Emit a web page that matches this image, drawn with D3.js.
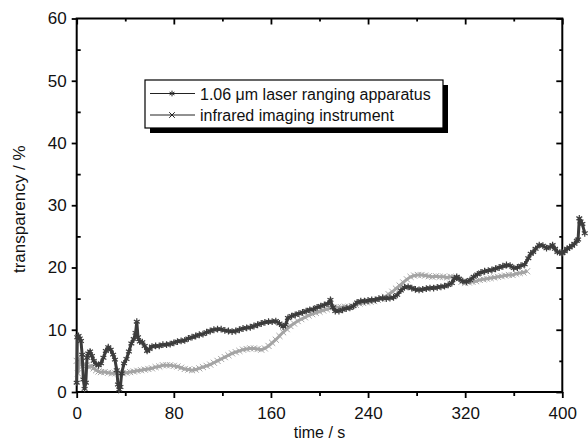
<!DOCTYPE html>
<html>
    <head>
        <meta charset="utf-8">
        <script src="https://d3js.org/d3.v7.min.js"></script>
        <style>
            body { margin: 0; background: #fff; }
            text { font-family: "Liberation Sans", Arial, sans-serif; }
        </style>
    </head>
    <body>
        <script>
            // DATA ///////////////////////////////////////////////////////////////////////////

            const seriesNames = ["1.06 \u03bcm laser ranging apparatus", "infrared imaging instrument"];

            const xMajorTicks = [0, 80, 160, 240, 320, 400];
            const yMajorTicks = [0, 10, 20, 30, 40, 50, 60];

            // laser ranging: [time s, transparency %]
            const laser = [
                [0,1.5],[0.5,8.8],[1.5,9],[2.5,8.6],[3.5,8.2],[4.5,6],[5.5,2],[6.5,0.5],[7.5,1.5],[8.5,5.5],
                [9.5,6.2],[11,6.5],[12.5,5.8],[14,5],[16,4.5],[18,4.3],[20,4.6],[22,5.5],[24,6.6],[26,7.2],
                [28,6.8],[30,6],[31.5,5.2],[33,3.5],[34,1.2],[35,0.4],[36,0.8],[37,3],[39,4.6],[41,5.3],
                [43,6.5],[45,7.8],[47,8.5],[48.5,9.5],[49.5,11.3],[50.5,8.8],[52,8.1],[54,8],[56,7.4],[58,6.6],
                [60,6.9],[62,7.3],[65,7.4],[68,7.4],[71,7.6],[74,7.6],[77,7.7],[80,7.9],[83,8.1],[86,8.2],
                [89,8.3],[92,8.6],[95,8.8],[98,9],[101,9.2],[104,9.3],[107,9.6],[110,9.8],[113,10],[116,10.1],
                [119,10.1],[122,9.9],[125,9.8],[128,9.7],[131,9.8],[134,10],[137,10.2],[140,10.3],[143,10.4],[146,10.6],
                [149,10.8],[152,11],[155,11.2],[158,11.3],[161,11.3],[164,11.4],[167,11],[170,10.5],[172,10.8],[174,11.9],
                [177,12.2],[180,12.4],[183,12.6],[186,12.8],[189,13],[192,13.2],[195,13.3],[198,13.6],[201,13.8],[204,14],
                [207,14.2],[209,14.8],[211,13.6],[213,13],[216,13],[219,13.2],[222,13.4],[225,13.5],[228,13.8],[231,14.4],
                [234,14.6],[237,14.6],[240,14.7],[243,14.8],[246,14.8],[249,15],[252,15.1],[255,15],[258,15.1],[261,15.2],
                [264,15.6],[267,16.3],[270,16.8],[273,16.9],[276,16.7],[279,16.5],[282,16.4],[285,16.5],[288,16.6],[291,16.7],
                [294,16.7],[297,16.8],[300,16.9],[303,17],[306,17.2],[309,17.5],[311,18.2],[313,18.5],[315,18.2],[318,17.8],
                [321,17.7],[324,18],[327,18.5],[330,18.9],[333,19.2],[336,19.4],[339,19.5],[342,19.6],[345,19.8],[348,20],
                [351,20.2],[354,20.4],[357,20.3],[360,19.9],[363,20],[366,20.3],[369,20.5],[372,21.5],[374,22.2],[376,22.5],
                [378,23],[381,23.6],[384,23.5],[387,23.1],[390,23.3],[392,23.6],[394,23],[396,22.5],[398,22.4],[400,22.3],
                [402,22.6],[404,23],[406,23.2],[408,23.5],[410,23.8],[412,24.3],[413,24.5],[414,27.9],[415,27.4],[416.5,27],
                [418.5,25.5]
            ];

            // infrared imaging: [time s, transparency %]
            const infrared = [
                [0,5],[1,3],[2,4.5],[3,5.2],[4,4.8],[5,4.2],[6,4.5],[8,4.3],[10,4],[12,4.2],
                [14,3.8],[16,3.5],[18,3.3],[20,3.2],[23,3.2],[26,3.1],[29,3],[32,3],[35,2.9],[38,3],
                [41,3.1],[44,3.2],[47,3.3],[50,3.4],[53,3.5],[56,3.6],[59,3.7],[62,3.8],[65,4],[68,4.1],
                [71,4.3],[74,4.3],[77,4.3],[80,4.2],[83,4.1],[86,3.9],[89,3.7],[92,3.6],[95,3.5],[98,3.6],
                [101,3.8],[104,4],[107,4.2],[110,4.4],[113,4.7],[116,5],[119,5.3],[122,5.6],[125,5.9],[128,6.2],
                [131,6.4],[134,6.6],[137,6.8],[140,6.9],[143,7],[146,7],[149,6.9],[152,6.8],[155,7],[158,7.4],
                [161,7.9],[164,8.4],[167,9],[170,9.6],[173,10.1],[176,10.6],[179,11],[182,11.4],[185,11.7],[188,12],
                [191,12.3],[194,12.5],[197,12.7],[200,12.9],[203,13.1],[206,13.3],[209,13.5],[212,13.6],[215,13.6],[218,13.6],
                [221,13.7],[224,13.7],[227,13.8],[230,14],[233,14.2],[236,14.3],[239,14.4],[242,14.5],[245,14.6],[248,14.8],
                [251,15],[254,15.3],[257,15.7],[260,16.1],[263,16.6],[266,17.1],[269,17.6],[272,18.1],[275,18.5],[278,18.7],
                [281,18.8],[284,18.8],[287,18.7],[290,18.6],[293,18.5],[296,18.6],[299,18.5],[302,18.5],[305,18.4],[308,18.5],
                [311,18.4],[314,18.1],[317,17.7],[320,17.5],[323,17.6],[326,17.7],[329,17.8],[332,18],[335,18.1],[338,18.2],
                [341,18.3],[344,18.4],[347,18.5],[350,18.6],[353,18.7],[356,18.8],[359,18.8],[362,19],[365,19.1],[368,19.2],
                [371,19.4]
            ];

            // CHART //////////////////////////////////////////////////////////////////////////

            const width = 588;
            const height = 443;
            const margin = { left: 76.7, top: 18.5, right: 25.7, bottom: 51 };

            const svg = d3.select("body").append("svg")
                .attr("width", width)
                .attr("height", height);

            const xSc = d3.scaleLinear().domain([0, 400]).range([margin.left, width - margin.right]);
            const ySc = d3.scaleLinear().domain([0, 60]).range([height - margin.bottom, margin.top]);

            const xMinor = d3.range(40, 400, 80);
            const yMinor = d3.range(5, 60, 10);

            function styleAxis(g) {
                g.select(".domain").remove();
                g.selectAll("line").attr("stroke", "#000").attr("stroke-width", 1.8);
                g.selectAll("text").attr("font-size", 17).attr("fill", "#111");
            }

            // bottom axis
            svg.append("g").attr("transform", `translate(0,${ySc(0)})`)
               .call(d3.axisBottom(xSc).tickValues(xMajorTicks).tickSize(6).tickPadding(9))
               .call(styleAxis);
            svg.append("g").attr("transform", `translate(0,${ySc(0)})`)
               .call(d3.axisBottom(xSc).tickValues(xMinor).tickSize(4).tickFormat(""))
               .call(styleAxis);

            // left axis
            svg.append("g").attr("transform", `translate(${xSc(0)},0)`)
               .call(d3.axisLeft(ySc).tickValues(yMajorTicks).tickSize(5).tickPadding(5))
               .call(styleAxis);
            svg.append("g").attr("transform", `translate(${xSc(0)},0)`)
               .call(d3.axisLeft(ySc).tickValues(yMinor).tickSize(-4).tickFormat(""))
               .call(styleAxis);

            // top axis (inward)
            svg.append("g").attr("transform", `translate(0,${ySc(60)})`)
               .call(d3.axisTop(xSc).tickValues(xMajorTicks).tickSize(-6).tickFormat(""))
               .call(styleAxis);
            svg.append("g").attr("transform", `translate(0,${ySc(60)})`)
               .call(d3.axisTop(xSc).tickValues(xMinor).tickSize(-3).tickFormat(""))
               .call(styleAxis);

            // right axis (inward)
            svg.append("g").attr("transform", `translate(${xSc(400)},0)`)
               .call(d3.axisRight(ySc).tickValues(yMajorTicks).tickSize(-6).tickFormat(""))
               .call(styleAxis);
            svg.append("g").attr("transform", `translate(${xSc(400)},0)`)
               .call(d3.axisRight(ySc).tickValues(yMinor).tickSize(-3).tickFormat(""))
               .call(styleAxis);

            // frame
            svg.append("rect")
               .attr("x", xSc(0)).attr("y", ySc(60))
               .attr("width", xSc(400) - xSc(0)).attr("height", ySc(0) - ySc(60))
               .attr("fill", "none").attr("stroke", "#000").attr("stroke-width", 2);

            // axis titles
            svg.append("text")
               .attr("x", (xSc(0) + xSc(400)) / 2).attr("y", 438)
               .attr("text-anchor", "middle").attr("font-size", 16).attr("fill", "#111")
               .text("time / s");

            svg.append("text")
               .attr("transform", `translate(25,${(ySc(0) + ySc(60)) / 2 + 4}) rotate(-90)`)
               .attr("text-anchor", "middle").attr("font-size", 17).attr("fill", "#111")
               .text("transparency / %");

            // SERIES /////////////////////////////////////////////////////////////////////////

            const lnMkr = d3.line().x(d => xSc(d[0])).y(d => ySc(d[1]));

            const series = [
                { data: infrared, color: "#a4a4a4", symbol: d3.symbolTimes, size: 26, width: 1 },
                { data: laser, color: "#3c3c3c", symbol: d3.symbolAsterisk, size: 32, width: 1.2 }
            ];

            series.forEach(s => {
                svg.append("path")
                   .attr("d", lnMkr(s.data))
                   .attr("fill", "none")
                   .attr("stroke", s.color)
                   .attr("stroke-width", 3);

                svg.append("g").selectAll("path")
                   .data(s.data)
                   .join("path")
                   .attr("transform", d => `translate(${xSc(d[0])},${ySc(d[1])})`)
                   .attr("d", d3.symbol(s.symbol, s.size))
                   .attr("fill", "none")
                   .attr("stroke", s.color)
                   .attr("stroke-width", s.width);
            });

            // LEGEND /////////////////////////////////////////////////////////////////////////

            const lg = svg.append("g");
            lg.append("rect").attr("x", 150).attr("y", 85).attr("width", 298).attr("height", 48).attr("fill", "#000");
            lg.append("rect").attr("x", 145).attr("y", 80).attr("width", 298).attr("height", 48)
              .attr("fill", "#fff").attr("stroke", "#000").attr("stroke-width", 1.2);

            const legendSymbols = [d3.symbolAsterisk, d3.symbolTimes];
            const legendY = [93.5, 115];
            seriesNames.forEach((name, i) => {
                lg.append("line").attr("x1", 150).attr("x2", 195)
                  .attr("y1", legendY[i]).attr("y2", legendY[i])
                  .attr("stroke", "#222").attr("stroke-width", 1);
                lg.append("path")
                  .attr("transform", `translate(172,${legendY[i]})`)
                  .attr("d", d3.symbol(legendSymbols[i], 22))
                  .attr("fill", "none").attr("stroke", "#222").attr("stroke-width", 1);
                lg.append("text").attr("x", 200).attr("y", legendY[i] + 6)
                  .attr("font-size", 16).attr("fill", "#111")
                  .text(name);
            });
        </script>
    </body>
</html>
